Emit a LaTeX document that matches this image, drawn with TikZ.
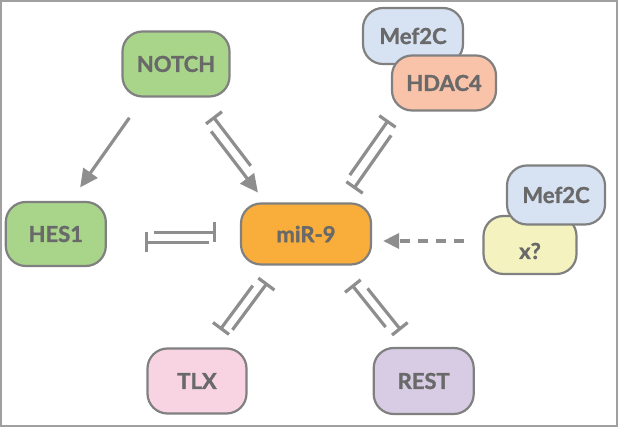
\documentclass[tikz,border=0pt]{standalone}
\usepackage{fontspec}
\setmainfont{Lato}[BoldFeatures={FakeBold=1.3}]
\usepackage{tikz}
\usetikzlibrary{arrows.meta,positioning,calc}

\definecolor{notchgreen}{HTML}{A9D58B}
\definecolor{mirorange}{HTML}{F9AE3B}
\definecolor{mefblue}{HTML}{D7E3F3}
\definecolor{hdacsalmon}{HTML}{F8C3A9}
\definecolor{xyellow}{HTML}{F4F3BF}
\definecolor{tlxpink}{HTML}{F8D3E2}
\definecolor{restlilac}{HTML}{D8CCE5}
\definecolor{boxgray}{HTML}{808080}
\definecolor{linegray}{HTML}{8E8E8E}
\definecolor{txtgray}{HTML}{696969}
\definecolor{framegray}{HTML}{A0A0A0}

\tikzset{
  gene/.style={rectangle, rounded corners=20pt, draw=boxgray, line width=2.2pt,
    text=txtgray, font=\bfseries\fontsize{22}{22}\selectfont, inner sep=0pt},
  inh/.style={draw=linegray, line width=3.2pt, -{Bar[width=20pt]}},
  act/.style={draw=linegray, line width=3.2pt, -{Triangle[length=18pt,width=17pt,fill=linegray]}},
}

\begin{document}
\begin{tikzpicture}[x=1pt, y=1pt]
    \useasboundingbox (0,0) rectangle (618,427);
    \draw[framegray, line width=1.5pt] (1,1) rectangle (617,426);

    \node[gene, fill=mirorange,  minimum width=130pt, minimum height=61pt] (MIR) at (306,193) {miR-9};
    \node[gene, fill=notchgreen, minimum width=100pt, minimum height=64pt] (HES) [left=133pt of MIR] {HES1};
    \node[gene, fill=notchgreen, minimum width=107pt, minimum height=65pt] (NOTCH) at (176,363) {NOTCH};
    \node[gene, fill=mefblue,    minimum width=100pt, minimum height=56pt] (MEFa) at (413,391) {Mef2C};
    \node[gene, fill=hdacsalmon, minimum width=104pt, minimum height=55pt] (HDAC) at (444,344) {HDAC4};
    \node[gene, fill=xyellow,    minimum width=93pt,  minimum height=58pt] (X) at (530,182) {\raisebox{-6pt}[\height][\depth]{x?}};
    \node[gene, fill=mefblue,    minimum width=98pt,  minimum height=59pt] (MEFb) at (556,232) {Mef2C};
    \node[gene, fill=tlxpink,    minimum width=99pt,  minimum height=65pt] (TLX) at (197,46) {TLX};
    \node[gene, fill=restlilac,  minimum width=100pt, minimum height=66pt] (REST) [right=125pt of TLX] {REST};
    \coordinate (cplx) at ($(MEFa)!0.5!(HDAC)$);

    % NOTCH
    \draw[act] ($(NOTCH)!0.34!(HES)!7pt!-90:(HES)$) -- ($(NOTCH)!0.75!(HES)!7pt!-90:(HES)$);
    \draw[inh] ($(NOTCH)!0.59!(MIR)!2.5pt!-90:(MIR)$) -- ($(NOTCH)!0.30!(MIR)!2.5pt!-90:(MIR)$);
    \draw[act] ($(NOTCH)!0.35!(MIR)!13pt!-90:(MIR)$) -- ($(NOTCH)!0.71!(MIR)!13pt!-90:(MIR)$);

    % HES1
    \draw[inh] ($(HES)!0.391!(MIR)!1.5pt!90:(MIR)$) -- ($(HES)!0.641!(MIR)!1.5pt!90:(MIR)$);
    \draw[inh] ($(HES)!0.613!(MIR)!8.5pt!-90:(MIR)$) -- ($(HES)!0.355!(MIR)!8.5pt!-90:(MIR)$);

    % Mef2C/HDAC4
    \draw[inh] ($(MIR)!0.344!(cplx)!2pt!-90:(cplx)$) -- ($(MIR)!0.659!(cplx)!2pt!-90:(cplx)$);
    \draw[inh] ($(MIR)!0.608!(cplx)!13pt!-90:(cplx)$) -- ($(MIR)!0.302!(cplx)!13pt!-90:(cplx)$);

    % TLX and REST
    \draw[inh] ($(MIR)!0.66!(TLX)!2pt!-90:(TLX)$) -- ($(MIR)!0.34!(TLX)!2pt!-90:(TLX)$);
    \draw[inh] ($(MIR)!0.40!(TLX)!12pt!-90:(TLX)$) -- ($(MIR)!0.70!(TLX)!12pt!-90:(TLX)$);
    \draw[inh] ($(MIR)!0.65!(REST)!4pt!90:(REST)$) -- ($(MIR)!0.363!(REST)!4pt!90:(REST)$);
    \draw[inh] ($(MIR)!0.43!(REST)!14pt!90:(REST)$) -- ($(MIR)!0.713!(REST)!14pt!90:(REST)$);

    % x? to miR-9
    \draw[act, dash pattern=on 10pt off 8pt, -{Triangle[length=16pt,width=15pt]}]
        ([shift={(-18,4)}]X.west) -- ([shift={(11,-7)}]MIR.east);
\end{tikzpicture}
\end{document}
